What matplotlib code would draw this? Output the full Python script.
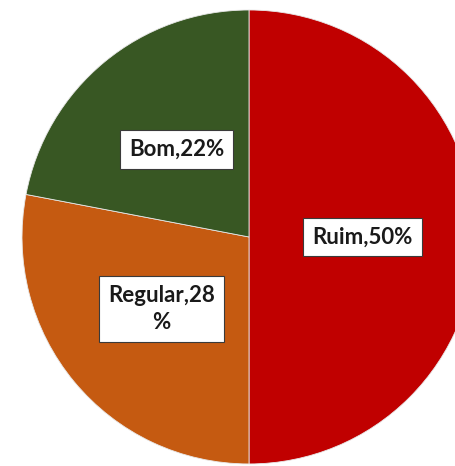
import numpy as np
import matplotlib.pyplot as plt

categories = ["Ruim", "Regular", "Bom"]
values = [50, 28, 22]
label_texts = ["Ruim,50%", "Regular,28\n%", "Bom,22%"]
colors = ["#C00000", "#C55A11", "#385723"]

fig = plt.figure(figsize=(4.56, 4.66), dpi=100)
ax = fig.add_axes([0, 0, 1, 1])

wedges, _ = ax.pie(values, colors=colors, startangle=90, counterclock=False,
                   radius=1.0,
                   wedgeprops=dict(edgecolor="#e8e8e8", linewidth=0.6))

# data labels sit about halfway out along each slice's mid-angle
for w, txt in zip(wedges, label_texts):
    mid = np.deg2rad((w.theta1 + w.theta2) / 2)
    x, y = 0.5 * np.cos(mid), 0.5 * np.sin(mid)
    ax.text(x, y, txt, ha="center", va="center", fontsize=16,
            family="Lato", fontweight="bold", color="#1a1a1a",
            linespacing=1.35,
            bbox=dict(boxstyle="square,pad=0.4", facecolor="white",
                      edgecolor="#3a3a3a", linewidth=0.8))

ax.set_xlim(-1.097, 0.912)
ax.set_ylim(-1.009, 1.044)
ax.set_axis_off()

fig.savefig("out.png", dpi=100)
